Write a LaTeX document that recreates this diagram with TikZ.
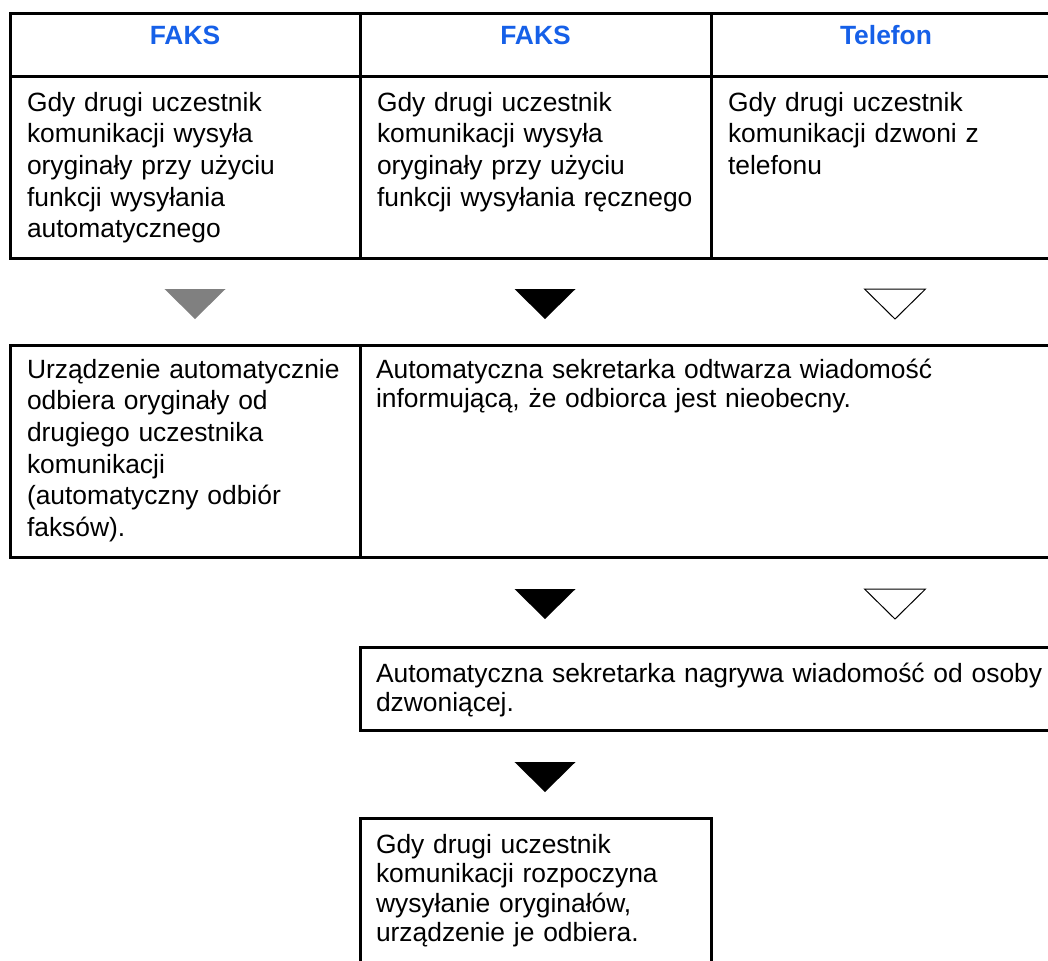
\documentclass[tikz,border=0pt]{standalone}
\usepackage{fontspec}
\setmainfont{Liberation Sans}
\usepackage{xcolor}
\usepackage{tikz}
\usetikzlibrary{calc,fit}

\definecolor{headblue}{RGB}{22,96,232}

\begin{document}
\begin{tikzpicture}[
    x=0.5pt, y=-0.5pt,
    line width=1.5pt,
    cell/.style={
        draw,
        rectangle,
        inner sep=0pt,
        outer sep=0pt,
    },
    head/.style={
        cell,
        font=\bfseries\fontsize{13.2}{15.85}\selectfont,
        text=headblue,
        text height=9.5pt,
        text depth=2pt,
    },
    txt/.style={
        inner sep=0pt,
        outer sep=0pt,
        anchor=base west,
        align=left,
        text width=#1,
        font=\fontsize{13.2}{15.85}\selectfont,
    },
    txt/.default=166pt,
    tight/.style={font=\fontsize{13.2}{14.75}\selectfont},
    gtri/.style={fill=black!50},
    btri/.style={fill=black},
    otri/.style={draw=black, fill=white, line width=0.5pt},
]

\useasboundingbox (0,0) rectangle (1048,960);
\clip (0,0) rectangle (1048,960);

% =========================================================
% top table: sources
% =========================================================
\node[head, fit={(10,13) (360,76)}]   (hd1) {FAKS};
\node[head, fit={(360,13) (711,76)}]  (hd2) {FAKS};
\node[head, fit={(711,13) (1061,76)}] (hd3) {Telefon};

\node[cell, fit={(10,76) (360,258)}]   (c1) {};
\node[cell, fit={(360,76) (711,258)}]  (c2) {};
\node[cell, fit={(711,76) (1061,258)}] (c3) {};

\node[txt] (c1txt) at ($(c1.north west)+(17,35)$)
    {Gdy drugi uczestnik\\komunikacji wysyła\\oryginały przy użyciu\\funkcji wysyłania\\automatycznego};
\node[txt] (c2txt) at ($(c2.north west)+(17,35)$)
    {Gdy drugi uczestnik\\komunikacji wysyła\\oryginały przy użyciu\\funkcji wysyłania ręcznego};
\node[txt] (c3txt) at ($(c3.north west)+(17,35)$)
    {Gdy drugi uczestnik\\komunikacji dzwoni z\\telefonu};

% =========================================================
% flow markers
% =========================================================
\foreach \cx/\cy/\kind in {195/289/gtri, 545/289/btri, 895/289/otri,
                           545/589/btri, 895/589/otri, 545/762/btri}
    \path[\kind] (\cx-30.5,\cy) -- (\cx+30.5,\cy) -- (\cx,\cy+30) -- cycle;

% =========================================================
% middle row: reaction
% =========================================================
\node[cell, fit={(10,345) (360,557)}]   (m1) {};
\node[cell, fit={(360,345) (1061,557)}] (m2) {};

\node[txt] (m1txt) at ($(m1.north west)+(17,33)$)
    {Urządzenie automatycznie\\odbiera oryginały od\\drugiego uczestnika\\komunikacji\\(automatyczny odbiór\\faksów).};
\node[txt=340pt, tight] (m2txt) at ($(m2.north west)+(16,33)$)
    {Automatyczna sekretarka odtwarza wiadomość\\informującą, że odbiorca jest nieobecny.};

% recording
\node[cell, fit={(360,647) (1061,730)}] (rec) {};
\node[txt=340pt, tight] (rectxt) at ($(rec.north west)+(16,35)$)
    {Automatyczna sekretarka nagrywa wiadomość od osoby\\dzwoniącej.};

% reception
\node[cell, fit={(360,818) (711,975)}] (recv) {};
\node[txt, tight] (recvtxt) at ($(recv.north west)+(16,35)$)
    {Gdy drugi uczestnik\\komunikacji rozpoczyna\\wysyłanie oryginałów,\\urządzenie je odbiera.};

\end{tikzpicture}
\end{document}
